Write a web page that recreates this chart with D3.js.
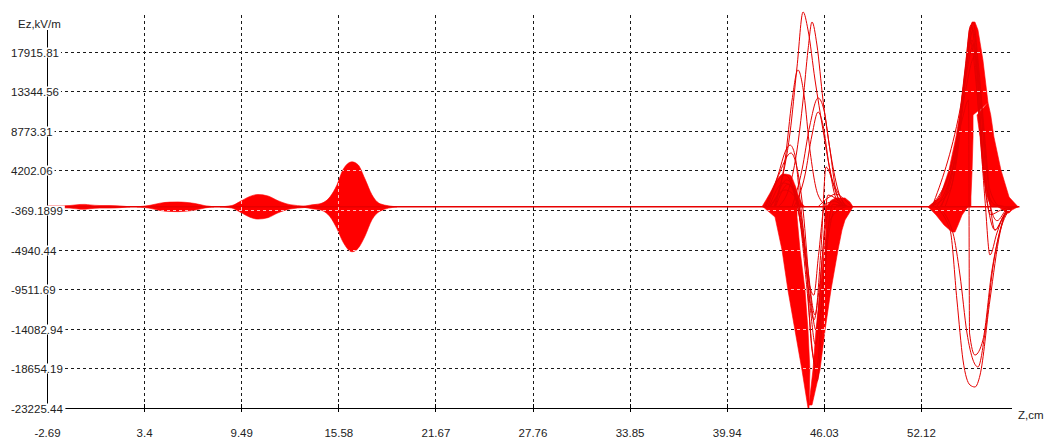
<!DOCTYPE html>
<html>
<head>
<meta charset="utf-8">
<script src="https://cdn.jsdelivr.net/npm/d3@7"></script>
<style>
  html, body { margin: 0; padding: 0; background: #fff; }
  svg { display: block; font-family: "Liberation Sans", Arial, sans-serif; }
</style>
</head>
<body>
<svg id="chart" width="1054" height="443"></svg>
<script>
// ---- axes ----
const zDomain = [-2.69, 58.21];
const ezDomain = [-23225.44, 22487.06];
const xTickValues = [-2.69, 3.4, 9.49, 15.58, 21.67, 27.76, 33.85, 39.94, 46.03, 52.12];
const xTickLabels = ["-2.69", "3.4", "9.49", "15.58", "21.67", "27.76", "33.85", "39.94", "46.03", "52.12"];
const yTickValues = [-23225.44, -18654.19, -14082.94, -9511.69, -4940.44, -369.1899, 4202.06, 8773.31, 13344.56, 17915.81];
const yTickLabels = ["-23225.44", "-18654.19", "-14082.94", "-9511.69", "-4940.44", "-369.1899", "4202.06", "8773.31", "13344.56", "17915.81"];

// ---- field along the axis: unperturbed level ----
const baseline = [[-2.69, 0], [58.3, 0]];

// small packets, envelope rows: [z, upper Ez, lower Ez]
const packetA = [[-2.69, 120, -120], [-1.87, 120, -120], [-1.25, 150, -150], [-0.62, 270, -270], [-0.31, 280, -280],
                 [0.01, 220, -220], [0.63, 150, -150], [1.26, 150, -150], [1.89, 100, -100], [2.52, 0, 0]];
const packetB = [[2.95, 0, 0], [3.77, 170, -170], [4.40, 420, -420], [5.02, 540, -540], [5.53, 560, -560],
                 [5.97, 520, -520], [6.59, 380, -380], [7.22, 130, -130], [7.78, 0, 0]];
const packetC = [[8.16, 0, 0], [8.91, 150, -150], [9.41, 600, -600], [10.04, 1200, -1200], [10.54, 1420, -1420],
                 [11.17, 1250, -1250], [11.80, 700, -700], [12.55, 250, -250], [13.49, 80, -80], [13.99, 0, 0]];
const packetD = [[13.30, 0, 0], [13.93, 230, -230], [14.43, 350, -350], [15.06, 1150, -1150], [15.50, 2540, -2540],
                 [15.87, 4270, -4040], [16.44, 5190, -5190], [16.82, 4850, -4800], [17.25, 3230, -3400],
                 [17.69, 1390, -1500], [18.20, 350, -500], [19.26, 0, 0]];

// packet near z = 44: dense regions
// bulge rows: [z, Ez];  band rows: [Ez, z left, z right]
const packetEBulge = [[42.15, 0], [42.66, 1590], [43.09, 3090], [43.47, 3790], [43.91, 3670], [44.22, 2520], [44.54, 790], [44.85, 0]];
const packetELeftBand = [[0, 42.22, 44.35], [-1180, 42.97, 44.35], [-4990, 43.41, 44.54], [-9600, 43.78, 44.85],
                         [-14220, 44.22, 45.04], [-18840, 44.66, 45.16], [-23225.44, 45.04, 45.10]];
const packetERightBand = [[1020, 46.73, 47.36], [550, 46.42, 47.67], [0, 46.17, 47.86], [-600, 46.11, 47.67],
                          [-1520, 46.11, 47.36], [-2680, 46.17, 47.17], [-4990, 46.04, 46.92], [-9600, 45.79, 46.48],
                          [-14220, 45.54, 46.11], [-18840, 45.35, 45.79], [-22880, 45.10, 45.29]];
// packet near z = 44: individual snapshots, rows [z, Ez]
const eCurve1 = [[42.66, 0], [43.28, 2290], [43.91, 8520], [44.35, 16140], [44.73, 22487], [45.04, 20410], [45.48, 14640], [45.98, 8870], [46.42, 4250], [46.92, 1020], [47.42, 0]];
const eCurve2 = [[43.16, 0], [43.91, 2520], [44.35, 6560], [44.73, 12330], [45.04, 18100], [45.29, 21330], [45.60, 18680], [45.98, 12330], [46.42, 6560], [46.86, 1360], [47.42, 0]];
const eCurve3 = [[42.97, 0], [43.60, 5400], [44.04, 12330], [44.41, 15790], [44.79, 12910], [45.16, 6560], [45.67, 1360], [46.29, 0]];
const eCurve4 = [[44.04, 0], [44.66, 4250], [45.16, 9440], [45.67, 12560], [46.04, 11180], [46.42, 6560], [46.92, 1940], [47.42, 0]];
const eCurve5 = [[44.16, 0], [44.85, 3670], [45.29, 8290], [45.67, 10940], [45.98, 9440], [46.36, 4830], [46.79, 1020], [47.36, 0]];
const eCurve6 = [[42.41, 0], [43.16, 3670], [43.66, 6560], [43.91, 7130], [44.22, 5980], [44.54, 790], [45.04, -7300], [45.48, -12490], [45.85, -4990], [46.17, 4600], [46.67, 2520], [47.42, 0]];
const eCurve7 = [[42.53, 0], [43.28, 4020], [43.97, 6210], [44.35, 4480], [44.73, -370], [45.16, -9600], [45.54, -14220], [45.92, -6140], [46.29, 1360], [46.92, 790], [47.55, 0]];
const eCurve8 = [[45.67, 0], [46.29, 1020], [46.79, 1480], [47.36, 790], [47.80, 0]];
const eCurve9 = [[42.34, 0], [43.60, 3670], [44.22, 1360], [44.73, -3830], [45.16, -10760], [45.41, -13070], [45.73, -9600], [46.11, -2680], [46.54, 790], [47.17, 0]];
const eCurve10 = [[42.66, 0], [43.60, 1940], [44.35, 790], [44.91, -6140], [45.29, -16530], [45.60, -18490], [45.92, -10760], [46.42, -1520], [47.36, 0]];
const eCurve11 = [[42.60, 0], [43.50, 2750], [44.10, 2200], [44.60, -2100], [45.10, -8800], [45.40, -10200], [45.70, -5600], [46.10, 300], [46.70, 600], [47.30, 0]];
const eCurve12 = [[42.90, 0], [43.70, 3100], [44.30, 1500], [44.80, -4500], [45.20, -12000], [45.50, -15900], [45.80, -12500], [46.20, -4000], [46.60, 300], [47.20, 0]];
const eCurve13 = [[43.00, 0], [43.80, 2600], [44.45, -600], [44.95, -9000], [45.35, -17200], [45.62, -20100], [45.90, -13800], [46.30, -3600], [46.90, 200], [47.40, 0]];

// packet near z = 55: dense regions, rows [Ez, z left, z right]
const packetFLeftBand = [[21330, 55.33, 55.51], [20410, 55.14, 55.70], [16950, 54.95, 56.01], [12000, 54.64, 56.33],
                         [10600, 54.55, 55.39], [8060, 54.32, 55.39], [4250, 53.88, 55.33], [1130, 53.32, 55.26], [0, 52.57, 55.26]];
const packetFRightBand = [[12000, 56.33, 56.33], [10600, 55.64, 56.50], [8060, 55.83, 56.70], [4250, 56.01, 57.14],
                          [1130, 56.27, 57.65], [0, 56.52, 58.21]];
const packetFLowerLeft = [[0, 52.57, 55.07], [-950, 53.07, 54.70], [-2100, 53.57, 54.45], [-2910, 54.07, 54.26]];
const packetFLowerRight = [[0, 56.96, 58.21], [-370, 57.27, 57.83], [-720, 57.52, 57.65]];
// packet near z = 55: individual snapshots, rows [z, Ez]
const fCurve1 = [[53.00, 0], [53.95, -2680], [54.38, -10760], [54.76, -17690], [55.20, -20570], [55.51, -20800], [55.83, -19420], [56.45, -10760], [57.08, -3020], [57.52, -370], [58.02, 0]];
const fCurve2 = [[53.19, 0], [54.13, -3020], [54.57, -7870], [55.01, -14570], [55.39, -17690], [55.70, -18490], [56.14, -14570], [56.64, -6950], [57.27, -1520], [57.83, 0]];
const fCurve3 = [[52.69, 0], [53.95, 1940], [54.70, 11180], [55.20, 19260], [55.64, 13140], [56.14, 790], [56.45, -5560], [56.89, -3020], [57.39, -720], [57.96, 0]];
const fCurve4 = [[52.82, 0], [54.26, 6560], [54.89, 14640], [55.39, 20410], [55.83, 13480], [56.27, 3900], [56.77, -2680], [57.27, -1180], [57.83, 0]];
const fCurve5 = [[52.69, 0], [53.95, 4250], [54.70, 10020], [55.11, 12330], [55.17, -14570], [55.51, -17110], [56.01, -15380], [56.58, -7300], [57.27, -1750], [57.96, 0]];
const fCurve6 = [[53.32, 0], [54.26, 5400], [54.89, 15790], [55.26, 20990], [55.58, 16950], [55.89, 8870], [56.20, 2520], [56.77, 210], [57.58, 0]];
const fCurve7 = [[53.63, 0], [54.45, 6560], [55.01, 16950], [55.39, 21330], [55.76, 15790], [56.14, 7710], [56.45, 1940], [57.08, 90], [57.71, 0]];
const fCurve8 = [[52.82, 0], [54.57, 11180], [55.33, 19260], [55.83, 8870], [56.27, 790], [56.77, -2680], [57.27, -1290], [57.83, 0]];
const fCurve9 = [[53.40, 0], [54.40, 7200], [55.00, 15600], [55.45, 18800], [55.80, 11500], [56.10, 3200], [56.50, -900], [57.10, -400], [57.70, 0]];
const fCurve10 = [[53.10, 0], [54.20, 5200], [54.90, 13200], [55.50, 17400], [55.95, 9800], [56.30, 1700], [56.90, -1600], [57.50, -300], [58.00, 0]];

const snapshotCurves = [eCurve1, eCurve2, eCurve3, eCurve4, eCurve5, eCurve6, eCurve7, eCurve8, eCurve9, eCurve10,
                        eCurve11, eCurve12, eCurve13,
                        fCurve1, fCurve2, fCurve3, fCurve4, fCurve5, fCurve6, fCurve7, fCurve8, fCurve9, fCurve10];
const envelopePackets = [packetA, packetB, packetC, packetD];
const verticalBands = [packetELeftBand, packetERightBand, packetFLeftBand, packetFRightBand, packetFLowerLeft, packetFLowerRight];

// ---- drawing ----
const svg = d3.select("#chart");
const x = d3.scaleLinear().domain(zDomain).range([47, 1018]);
const y = d3.scaleLinear().domain(ezDomain).range([408, 12]);
const plotLeft = 47, plotRight = 1012, plotBottom = 408;
const red = "#ff0000";
const crisp = v => Math.round(v) + 0.5;

function drawGrid(g, color, opacity) {
  g.selectAll("line.h").data(yTickValues.slice(1)).join("line")
    .attr("class", "h")
    .attr("x1", plotLeft).attr("x2", plotRight)
    .attr("y1", d => crisp(y(d))).attr("y2", d => crisp(y(d)))
    .attr("stroke", color).attr("stroke-opacity", opacity)
    .attr("stroke-dasharray", "3,3").attr("shape-rendering", "crispEdges");
  g.selectAll("line.v").data(xTickValues.slice(1)).join("line")
    .attr("class", "v")
    .attr("x1", d => crisp(x(d))).attr("x2", d => crisp(x(d)))
    .attr("y1", 15).attr("y2", plotBottom)
    .attr("stroke", color).attr("stroke-opacity", opacity)
    .attr("stroke-dasharray", "3,3").attr("shape-rendering", "crispEdges");
}

drawGrid(svg.append("g"), "#1a1a1a", 1);

// envelope areas (parameterised by z)
const envArea = d3.area()
  .x(d => x(d[0])).y0(d => y(d[2])).y1(d => y(d[1]))
  .curve(d3.curveMonotoneX);
const bulgeArea = d3.area()
  .x(d => x(d[0])).y0(y(0)).y1(d => y(d[1]))
  .curve(d3.curveMonotoneX);
// band areas (parameterised by Ez)
const bandArea = d3.area()
  .y(d => y(d[0])).x0(d => x(d[1])).x1(d => x(d[2]));

const densePaths = [];
envelopePackets.forEach(p => densePaths.push(envArea(p)));
densePaths.push(bulgeArea(packetEBulge));
verticalBands.forEach(b => densePaths.push(bandArea(b)));

const fills = svg.append("g");
fills.selectAll("path").data(densePaths).join("path")
  .attr("d", d => d).attr("fill", red).attr("stroke", red).attr("stroke-width", 0.6);

const line = d3.line().x(d => x(d[0])).y(d => y(d[1])).curve(d3.curveMonotoneX);
svg.append("g").selectAll("path").data(snapshotCurves).join("path")
  .attr("d", line).attr("fill", "none").attr("stroke", "#e50000").attr("stroke-width", 1);

svg.append("path").attr("d", d3.line().x(d => x(d[0])).y(d => y(d[1]))(baseline))
  .attr("fill", "none").attr("stroke", "#e80000").attr("stroke-width", 1.6);

// grid seen through the dense regions
const clip = svg.append("clipPath").attr("id", "denseClip");
clip.selectAll("path").data(densePaths).join("path").attr("d", d => d);
drawGrid(svg.append("g").attr("clip-path", "url(#denseClip)"), "#ffffff", 0.75);

// axes
svg.append("line").attr("x1", crisp(plotLeft)).attr("x2", crisp(plotLeft)).attr("y1", 30).attr("y2", 412)
  .attr("stroke", "#000").attr("shape-rendering", "crispEdges");
svg.append("line").attr("x1", plotLeft).attr("x2", plotRight).attr("y1", crisp(plotBottom)).attr("y2", crisp(plotBottom))
  .attr("stroke", "#000").attr("shape-rendering", "crispEdges");

const xAxis = d3.axisBottom(x).tickValues(xTickValues).tickFormat((d, i) => xTickLabels[i]).tickSize(4);
const gx = svg.append("g").attr("transform", `translate(0,${plotBottom})`).call(xAxis);
gx.select(".domain").remove();
gx.selectAll(".tick line").attr("y1", -4).attr("y2", 4).attr("stroke", "#000").attr("shape-rendering", "crispEdges");
gx.selectAll(".tick text").attr("dy", null).attr("y", 29)
  .attr("font-size", "11.5px").attr("fill", "#222").attr("font-family", "Liberation Sans, Arial, sans-serif");

// y tick labels sit on white boxes over the axis line
const yLab = svg.append("g");
yTickValues.forEach((v, i) => {
  const g = yLab.append("g");
  const t = g.append("text").attr("x", 11).attr("y", Math.round(y(v)) + 4.5)
    .attr("font-size", "11.5px").attr("fill", "#222").text(yTickLabels[i]);
  const b = t.node().getBBox();
  g.insert("rect", "text").attr("x", b.x - 1).attr("y", b.y + 1).attr("width", b.width + 3).attr("height", b.height - 2)
    .attr("fill", "#fff");
});

const yTitle = svg.append("g");
const yt = yTitle.append("text").attr("x", 18).attr("y", 28).attr("font-size", "11.5px").attr("fill", "#222").text("Ez,kV/m");
const yb = yt.node().getBBox();
yTitle.insert("rect", "text").attr("x", yb.x - 1).attr("y", yb.y).attr("width", yb.width + 2).attr("height", yb.height).attr("fill", "#fff");

svg.append("text").attr("x", 1018).attr("y", 419).attr("font-size", "11.5px").attr("fill", "#222").text("Z,cm");
</script>
</body>
</html>
